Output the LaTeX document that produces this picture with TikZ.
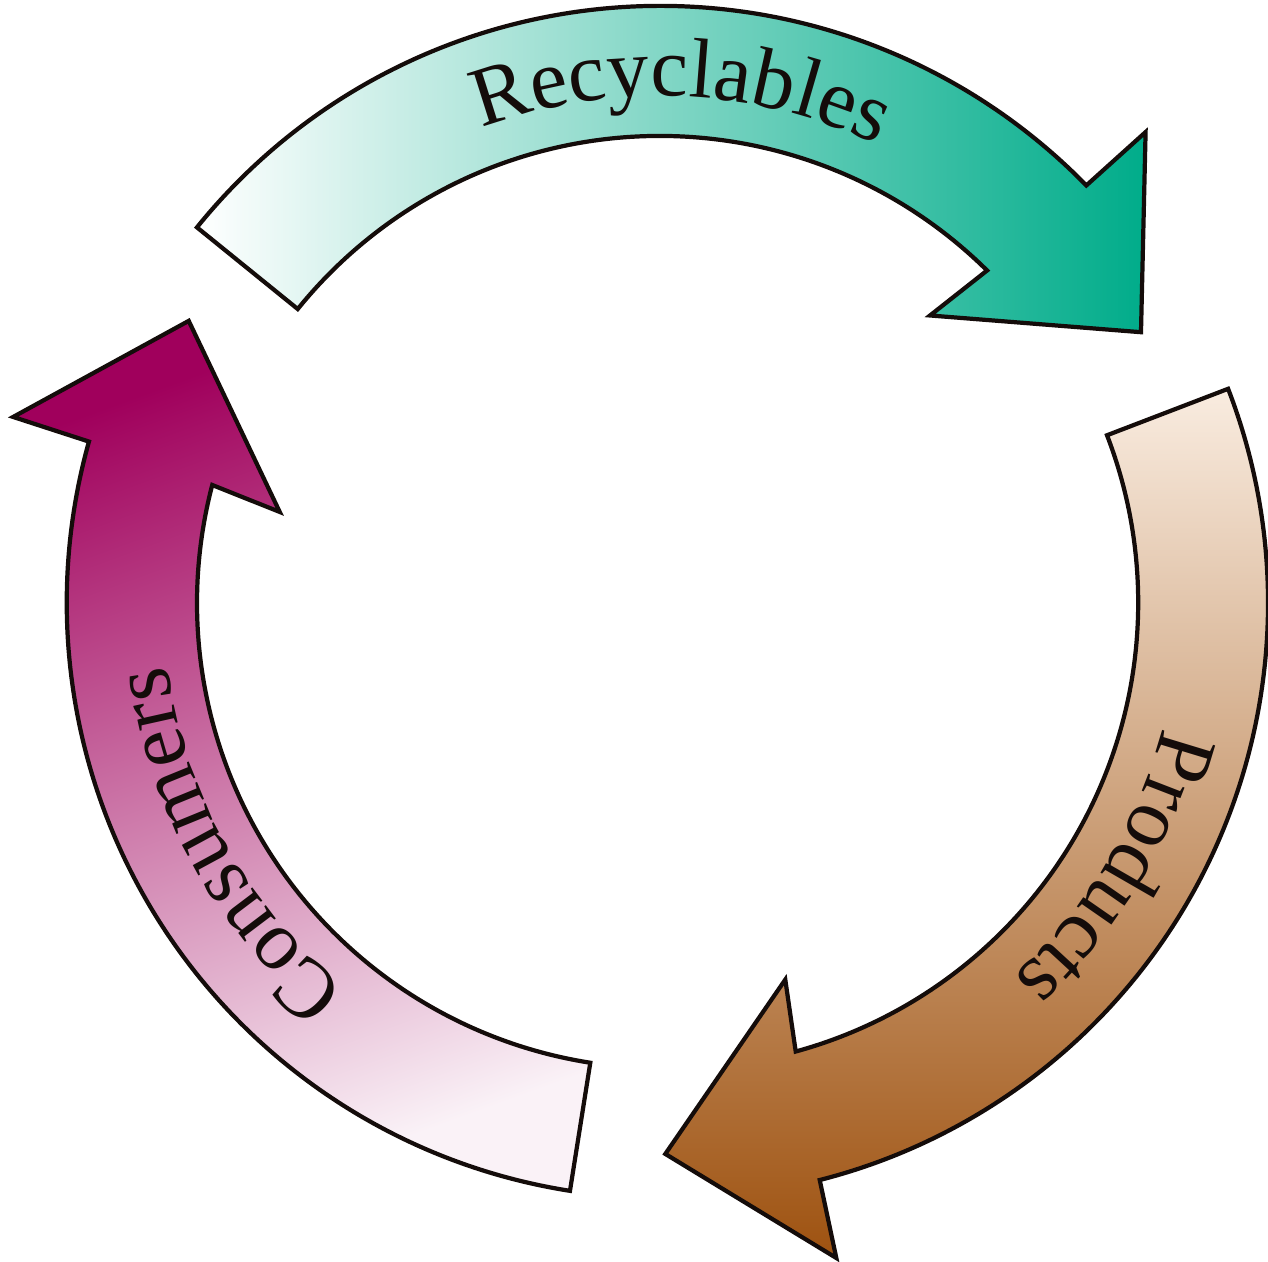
\documentclass[tikz,border=0pt]{standalone}
\usepackage{fontspec}
\setmainfont{Liberation Serif}
\usetikzlibrary{decorations.text}

\definecolor{recyc}{RGB}{0,172,138}
\definecolor{prodlight}{RGB}{249,236,224}
\definecolor{prodmid}{RGB}{220,170,122}
\definecolor{proddark}{RGB}{158,82,16}
\definecolor{consdark}{RGB}{160,0,92}
\definecolor{conslight}{RGB}{250,242,247}
\definecolor{outline}{RGB}{20,12,10}

\newcommand\arclabelfont{\fontsize{24}{28}\selectfont}

\begin{document}
\begin{tikzpicture}[x=0.01cm,y=0.01cm,
  band/.style={draw=outline, line width=1.2pt, line join=miter},
  arctext/.style={decorate, decoration={text along path, text align=center,
    text color=outline, text={|\arclabelfont|#1}}}]
\useasboundingbox (0,0) rectangle (1268,-1261);

% Recyclables (top)
\begin{scope}[shift={(660,-601)}]
  \path[band, left color=white, right color=recyc]
    (141.1:595) arc[start angle=141.1, end angle=44.3, radius=5.95cm]
    -- (44.0:675) -- (29.2:551) -- (46.6:393) -- (45.3:465)
    arc[start angle=45.3, end angle=141.1, radius=4.65cm] -- cycle;
  \path[arctext=Recyclables]
    (137.6:505) arc[start angle=137.6, end angle=37.6, radius=5.05cm];
\end{scope}

% Products (right)
\begin{scope}[shift={(673,-603)}]
  \path[band, top color=prodlight, middle color=prodmid, bottom color=proddark]
    (21.1:595) arc[start angle=21.1, end angle=-75.7, radius=5.95cm]
    -- (-76.0:675) -- (-90.8:551) -- (-73.4:393) -- (-74.7:465)
    arc[start angle=-74.7, end angle=21.1, radius=4.65cm] -- cycle;
  \path[arctext=Products]
    (19:505) arc[start angle=19, end angle=-81, radius=5.05cm];
\end{scope}

% Consumers (left)
\begin{scope}[shift={(662,-603)}]
  \path[band, top color=consdark, bottom color=conslight, shading angle=20]
    (261.1:595) arc[start angle=261.1, end angle=164.3, radius=5.95cm]
    -- (164.0:675) -- (149.2:551) -- (166.6:393) -- (165.3:465)
    arc[start angle=165.3, end angle=261.1, radius=4.65cm] -- cycle;
  \path[arctext=Consumers]
    (259:498) arc[start angle=259, end angle=159, radius=4.98cm];
\end{scope}
\end{tikzpicture}
\end{document}
